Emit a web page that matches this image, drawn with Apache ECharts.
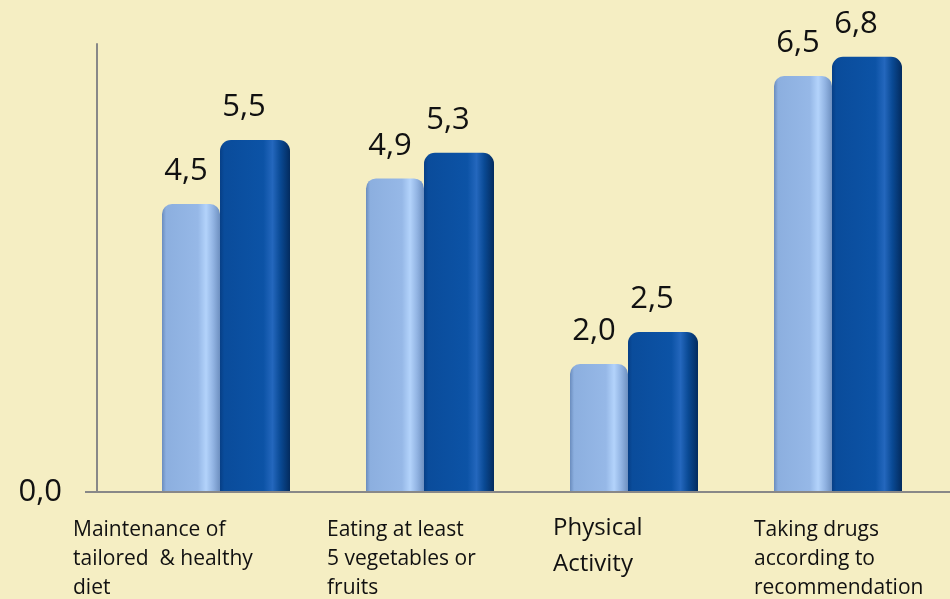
<!DOCTYPE html>
<html>
<head>
<meta charset="utf-8">
<script src="https://cdn.jsdelivr.net/npm/echarts@6/dist/echarts.min.js"></script>
<style>
  html, body { margin: 0; padding: 0; background: #f5eec3; }
  #chart { width: 950px; height: 599px; }
</style>
</head>
<body>
<div id="chart"></div>
<script>
// Lifestyle recommendations: two measurements per category
const categories = [
  'Maintenance of\ntailored  & healthy\ndiet',
  'Eating at least\n5 vegetables or\nfruits',
  'Physical\nActivity',
  'Taking drugs\naccording to\nrecommendation'
];
const seriesA = [4.5, 4.9, 2.0, 6.5];
const seriesB = [5.5, 5.3, 2.5, 6.8];
const yTickValues = [0];

// Label box widths (text is left-aligned inside each box, box centred under its group)
const labelBoxWidth = [306, 206, 162, 168];
const labelFontSize = [21, 21, 24, 21];
const labelLineHeights = [[29, 29, 29], [29, 29, 29], [24, 48], [29, 29, 29]];

const gridLeft = 124, gridRight = 10, gridTop = 44, gridBottom = 107;
const yAxisOffset = 27, yTickLen = 12;

const fmt = v => v.toFixed(1).replace('.', ',');

const rich = {};
categories.forEach((c, i) => {
  labelLineHeights[i].forEach((lh, j) => {
    rich['c' + i + 'l' + j] = {
      width: labelBoxWidth[i],
      align: 'left',
      fontSize: labelFontSize[i],
      lineHeight: lh,
      fontFamily: 'Open Sans',
      color: '#111'
    };
  });
});

const lightFill = new echarts.graphic.LinearGradient(0, 0, 1, 0, [
  { offset: 0, color: '#6a8cbd' },
  { offset: 0.07, color: '#8cafdf' },
  { offset: 0.62, color: '#96b8e7' },
  { offset: 0.76, color: '#b3d3fb' },
  { offset: 0.88, color: '#92b4e3' },
  { offset: 1, color: '#6e90c0' }
]);
const darkFill = new echarts.graphic.LinearGradient(0, 0, 1, 0, [
  { offset: 0, color: '#073f86' },
  { offset: 0.06, color: '#0a4c9b' },
  { offset: 0.62, color: '#0c53a6' },
  { offset: 0.75, color: '#2467bd' },
  { offset: 0.86, color: '#0a4a95' },
  { offset: 1, color: '#032b5e' }
]);

const chart = echarts.init(document.getElementById('chart'), null, { renderer: 'canvas' });

chart.setOption({
  backgroundColor: '#f5eec3',
  animation: false,
  grid: {
    left: gridLeft, right: gridRight, top: gridTop, bottom: gridBottom,
    containLabel: false, outerBoundsMode: 'none'
  },
  xAxis: {
    type: 'category',
    data: categories,
    axisLine: { show: false },
    axisTick: { show: false },
    axisLabel: {
      interval: 0,
      margin: 24,
      align: 'center',
      verticalAlign: 'top',
      formatter: (val, idx) => val.split('\n').map((l, j) => '{c' + idx + 'l' + j + '|' + l + '}').join('\n'),
      rich: rich
    }
  },
  yAxis: {
    type: 'value',
    min: 0,
    max: 7,
    interval: 7,
    offset: yAxisOffset,
    axisLine: { show: true, lineStyle: { color: '#888888', width: 2 } },
    axisTick: { show: true, length: yTickLen, customValues: yTickValues, lineStyle: { color: '#888888', width: 2 } },
    axisLabel: {
      customValues: yTickValues,
      formatter: v => fmt(v),
      margin: 35,
      fontSize: 31,
      fontFamily: 'Open Sans',
      color: '#111'
    },
    splitLine: { show: false }
  },
  series: [
    {
      type: 'bar',
      data: seriesA,
      barWidth: 58,
      barGap: '0%',
      itemStyle: { color: lightFill, borderRadius: [10, 10, 0, 0] },
      label: {
        show: true, position: 'top', distance: 17, offset: [-5, 0],
        formatter: p => fmt(p.value),
        fontSize: 31, fontFamily: 'Open Sans', color: '#111'
      }
    },
    {
      type: 'bar',
      data: seriesB,
      barWidth: 70,
      barGap: '0%',
      itemStyle: { color: darkFill, borderRadius: [11, 11, 0, 0] },
      label: {
        show: true, position: 'top', distance: 17, offset: [-11, 0],
        formatter: p => fmt(p.value),
        fontSize: 31, fontFamily: 'Open Sans', color: '#111'
      }
    }
  ]
});

// Baseline running from the y-axis tick across to the right edge
const baseY = chart.convertToPixel({ yAxisIndex: 0 }, 0);
chart.setOption({
  graphic: [{
    type: 'line',
    z: 5,
    shape: { x1: gridLeft - yAxisOffset - yTickLen, y1: baseY, x2: chart.getWidth(), y2: baseY },
    style: { stroke: '#888888', lineWidth: 2 }
  }]
});
</script>
</body>
</html>
